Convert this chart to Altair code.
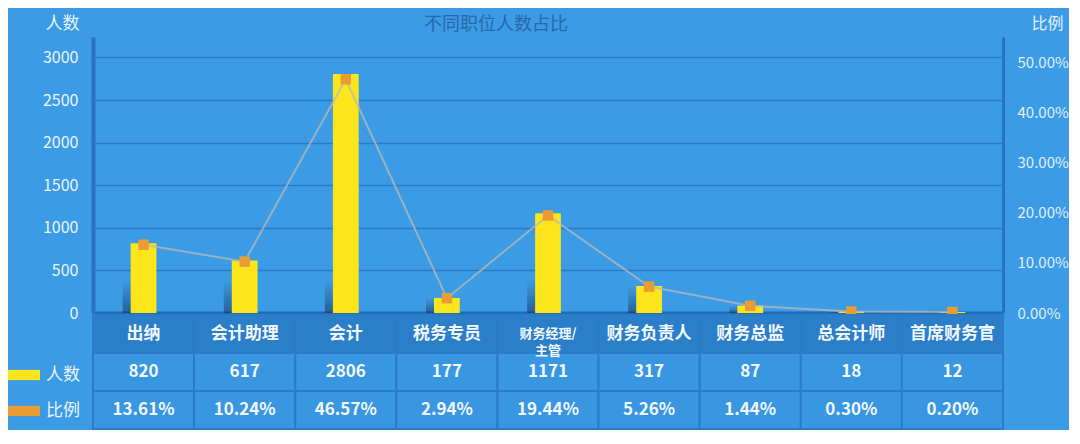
import altair as alt
import pandas as pd

FONT = "Noto Sans CJK SC"
BG = "#3b9be4"

# ---- data ----
categories = ["出纳", "会计助理", "会计", "税务专员", "财务经理/主管", "财务负责人", "财务总监", "总会计师", "首席财务官"]
headers = ["出纳", "会计助理", "会计", "税务专员", "财务经理/\n主管", "财务负责人", "财务总监", "总会计师", "首席财务官"]
counts = [820, 617, 2806, 177, 1171, 317, 87, 18, 12]
ratios = [13.61, 10.24, 46.57, 2.94, 19.44, 5.26, 1.44, 0.30, 0.20]
series = ["人数", "比例"]
left_ticks = [0, 500, 1000, 1500, 2000, 2500, 3000]
right_ticks = [0, 5, 10, 15, 20, 25, 30, 35, 40, 45, 50]
table_rows = ["header", "人数", "比例"]

df = pd.DataFrame({"cat": categories, "count": counts, "ratio": ratios})

tdf = pd.DataFrame(
    [{"cat": c, "row": "header", "label": h} for c, h in zip(categories, headers)]
    + [{"cat": c, "row": "人数", "label": str(v)} for c, v in zip(categories, counts)]
    + [{"cat": c, "row": "比例", "label": f"{r:.2f}%"} for c, r in zip(categories, ratios)]
)

W = 910
H = 276

# ---- top chart ----
x = alt.X(
    "cat:N", sort=categories,
    scale=alt.Scale(paddingInner=0.745, paddingOuter=0.3725),
    axis=alt.Axis(labels=False, ticks=False, title=None, grid=False,
                  domainColor="#1f6db6", domainWidth=4),
)

count_scale = alt.Scale(domain=[0, 3240], nice=False)
color_scale = alt.Scale(domain=series, range=["#fce51b", "#e89c33"])

shadow = (
    alt.Chart(df)
    .transform_calculate(sh="min(datum.count, 380)")
    .mark_bar(
        xOffset=-8,
        fill=alt.Gradient(
            gradient="linear", x1=0, y1=0, x2=0, y2=1,
            stops=[alt.GradientStop(color="rgba(20,45,90,0)", offset=0),
                   alt.GradientStop(color="rgba(20,45,90,0.55)", offset=1)],
        ),
    )
    .encode(x=x, y=alt.Y("sh:Q", scale=count_scale))
)

bars = alt.Chart(df).transform_calculate(series="'人数'").mark_bar().encode(
    x=x,
    y=alt.Y(
        "count:Q",
        scale=count_scale,
        axis=alt.Axis(
            values=left_ticks, format="d", title="人数", titleAngle=0, titleAlign="center",
            titleBaseline="middle", titleX=-31, titleY=-14, titleColor="#eaf5ff",
            titleFontSize=17, titleFontWeight="normal", titleFont=FONT,
            labelColor="#eaf5ff", labelFontSize=16, labelFont=FONT, labelPadding=15,
            ticks=False, grid=True, gridColor="#2b7bc3", gridWidth=1.5,
            domainColor="#2673bc", domainWidth=4,
        ),
    ),
    color=alt.Color(
        "series:N", scale=color_scale,
        legend=alt.Legend(
            orient="none", legendX=-85, legendY=322, title=None, direction="vertical",
            symbolType="M-1,-0.32H1V0.32H-1Z", symbolSize=1024, symbolOpacity=1,
            symbolStrokeWidth=0, labelColor="#eaf5ff", labelFontSize=17, labelFont=FONT,
            labelOffset=6, rowPadding=12,
        ),
    ),
)

ratio_y_scale = alt.Scale(domain=[0, 55], nice=False)

line = alt.Chart(df).mark_line(color="#b8b8b8", strokeWidth=2, opacity=0.75).encode(
    x=x,
    y=alt.Y(
        "ratio:Q", scale=ratio_y_scale,
        axis=alt.Axis(
            orient="right", values=right_ticks,
            labelExpr="format(datum.value, '.2f') + '%'",
            title="比例", titleAngle=0, titleAlign="center", titleBaseline="middle",
            titleX=44, titleY=-14, titleColor="#e3f1ff", titleFontSize=16,
            titleFontWeight="normal", titleFont=FONT,
            labelColor="#e0f0ff", labelFontSize=15, labelFont=FONT, labelPadding=14,
            ticks=False, grid=False, domainColor="#2673bc", domainWidth=3,
        ),
    ),
)

points = alt.Chart(df).transform_calculate(series="'比例'").mark_square(size=110, opacity=1).encode(
    x=x,
    y=alt.Y("ratio:Q", scale=ratio_y_scale),
    color=alt.Color("series:N", scale=color_scale),
)

top = (
    alt.layer(alt.layer(shadow, bars), alt.layer(line, points))
    .resolve_scale(y="independent")
    .properties(
        width=W, height=H,
        title=alt.Title("不同职位人数占比", color="#2868ab", fontSize=18,
                        fontWeight="normal", font=FONT, anchor="middle", dx=-52, offset=-20),
    )
)

# ---- table ----
xt = alt.X("cat:N", sort=categories, scale=alt.Scale(paddingInner=0, paddingOuter=0), axis=None)
yt = alt.Y("row:N", sort=table_rows, scale=alt.Scale(paddingInner=0, paddingOuter=0), axis=None)

cells = alt.Chart(tdf).mark_rect(stroke="#2b7cc4", strokeWidth=2).encode(
    x=xt, y=yt,
    fill=alt.condition("datum.row == 'header'", alt.value("#2b7ec8"), alt.value("#3996e0")),
)

texts = alt.Chart(tdf).mark_text(
    lineBreak="\n", fontWeight="bold", color="#f2f8ff", font=FONT, lineHeight=17
).encode(
    x=xt, y=yt, text="label:N",
    size=alt.condition("indexof(datum.label, '\\n') >= 0", alt.value(13), alt.value(17)),
)

table = alt.layer(cells, texts).properties(width=W, height=114)

chart = (
    alt.vconcat(top, table, spacing=2, bounds="flush")
    .resolve_scale(x="independent", y="independent", color="independent")
    .properties(padding={"top": 6, "left": 0, "right": 0, "bottom": 0}, background=BG)
    .configure_view(stroke=None)
)

chart.save("out.html", embed_options={"renderer": "svg", "actions": False})
